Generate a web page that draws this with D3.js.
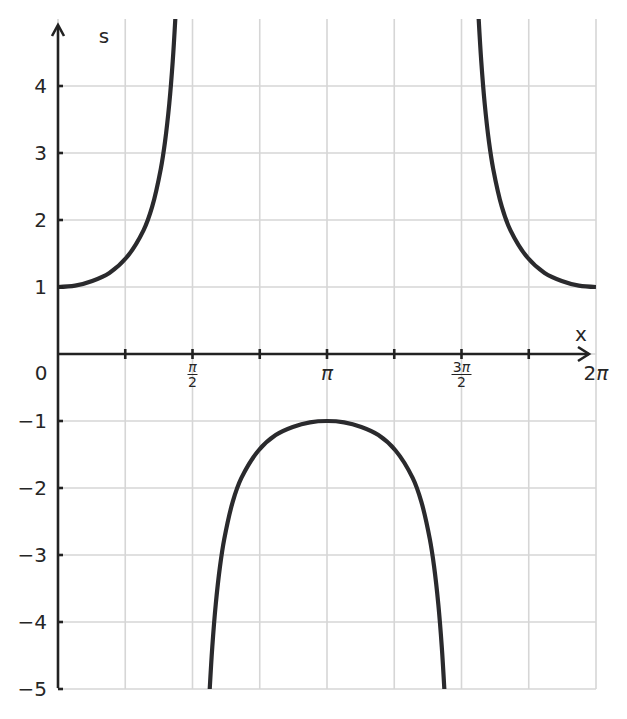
<!DOCTYPE html>
<html>
<head>
<meta charset="utf-8">
<script src="https://cdn.jsdelivr.net/npm/d3@7"></script>
<style>
  body { margin: 0; background: #fff; }
  text { font-family: "DejaVu Sans", sans-serif; fill: #262626; }
</style>
</head>
<body>
<svg width="627" height="719"></svg>
<script>
// values (x in radians, s)
const branch1X = [0, 0.2, 0.4, 0.6, 0.8, 1.0, 1.1, 1.2, 1.25, 1.3, 1.34, 1.37];
const branch1S = [1, 1.02, 1.09, 1.21, 1.44, 1.85, 2.2, 2.76, 3.17, 3.74, 4.37, 5.0];

const branch2X = [1.772, 1.802, 1.842, 1.892, 1.942, 2.042, 2.142, 2.342, 2.542, 2.742, 2.942, 3.142,
                  3.342, 3.542, 3.742, 3.942, 4.142, 4.242, 4.342, 4.392, 4.442, 4.482, 4.512];
const branch2S = [-5.0, -4.37, -3.74, -3.17, -2.76, -2.2, -1.85, -1.44, -1.21, -1.09, -1.02, -1,
                  -1.02, -1.09, -1.21, -1.44, -1.85, -2.2, -2.76, -3.17, -3.74, -4.37, -5.0];

const branch3X = [4.913, 4.943, 4.983, 5.033, 5.083, 5.183, 5.283, 5.483, 5.683, 5.883, 6.083, 6.283];
const branch3S = [5.0, 4.37, 3.74, 3.17, 2.76, 2.2, 1.85, 1.44, 1.21, 1.09, 1.02, 1];

const xGridPi = [0, 0.25, 0.5, 0.75, 1, 1.25, 1.5, 1.75, 2];   // multiples of pi
const xLabelPi = [0.5, 1, 1.5, 2];
const xLabelText = [["", "2"], [""], ["3", "2"], ["2"]];      // digit before pi, denominator
const yTicks = [-5, -4, -3, -2, -1, 1, 2, 3, 4];
const yGrid = [-5, -4, -3, -2, -1, 0, 1, 2, 3, 4];

const svg = d3.select("svg");
const PI = Math.PI;

const x = d3.scaleLinear().domain([0, 2 * PI]).range([58, 596]);
const y = d3.scaleLinear().domain([-5, 5]).range([689, 19]);

const axisColor = "#222";
const gridColor = "#d6d6d6";

// grid
svg.append("g").selectAll("line")
  .data(xGridPi)
  .enter().append("line")
    .attr("x1", d => x(d * PI)).attr("x2", d => x(d * PI))
    .attr("y1", y(5)).attr("y2", y(-5))
    .attr("stroke", gridColor).attr("stroke-width", 1.6);

svg.append("g").selectAll("line")
  .data(yGrid)
  .enter().append("line")
    .attr("x1", x(0)).attr("x2", x(2 * PI))
    .attr("y1", d => y(d)).attr("y2", d => y(d))
    .attr("stroke", gridColor).attr("stroke-width", 1.6);

// curves
svg.append("clipPath").attr("id", "clip")
  .append("rect")
    .attr("x", x(0)).attr("y", y(5))
    .attr("width", x(2 * PI) - x(0)).attr("height", y(-5) - y(5));

const line = d3.line()
  .x(d => x(d[0]))
  .y(d => y(d[1]))
  .curve(d3.curveCatmullRom.alpha(0.5));

const branches = [
  d3.zip(branch1X, branch1S),
  d3.zip(branch2X, branch2S),
  d3.zip(branch3X, branch3S)
];

svg.append("g").attr("clip-path", "url(#clip)")
  .selectAll("path")
  .data(branches)
  .enter().append("path")
    .attr("d", line)
    .attr("fill", "none")
    .attr("stroke", "#2a2a2d")
    .attr("stroke-width", 4.2);

// axes
const y0 = y(0);
svg.append("line")
  .attr("x1", x(0)).attr("x2", 589)
  .attr("y1", y0).attr("y2", y0)
  .attr("stroke", axisColor).attr("stroke-width", 2.6);
svg.append("path")
  .attr("d", `M578,${y0 - 7}L589,${y0}L578,${y0 + 7}`)
  .attr("fill", "none").attr("stroke", axisColor).attr("stroke-width", 2.6);

svg.append("line")
  .attr("x1", x(0)).attr("x2", x(0))
  .attr("y1", 688).attr("y2", 26)
  .attr("stroke", axisColor).attr("stroke-width", 2.6);
svg.append("path")
  .attr("d", `M${x(0) - 6},36L${x(0)},25L${x(0) + 6},36`)
  .attr("fill", "none").attr("stroke", axisColor).attr("stroke-width", 2.6);

// x ticks
svg.append("g").selectAll("line")
  .data(xGridPi.filter(d => d > 0 && d < 2))
  .enter().append("line")
    .attr("x1", d => x(d * PI)).attr("x2", d => x(d * PI))
    .attr("y1", y0 - 5).attr("y2", y0 + 5)
    .attr("stroke", axisColor).attr("stroke-width", 2.6);

// y ticks
svg.append("g").selectAll("line")
  .data(yTicks)
  .enter().append("line")
    .attr("x1", x(0)).attr("x2", x(0) + 5)
    .attr("y1", d => y(d)).attr("y2", d => y(d))
    .attr("stroke", axisColor).attr("stroke-width", 2.6);

// y tick labels
svg.append("g").selectAll("text")
  .data(yTicks)
  .enter().append("text")
    .attr("x", 47)
    .attr("y", d => y(d))
    .attr("dy", "0.36em")
    .attr("text-anchor", "end")
    .attr("font-size", 20)
    .text(d => d < 0 ? "−" + Math.abs(d) : d);

svg.append("text")
  .attr("x", 41).attr("y", 380)
  .attr("text-anchor", "middle").attr("font-size", 20)
  .text("0");

// x tick labels
xLabelPi.forEach((v, i) => {
  const t = xLabelText[i];
  const cx = x(v * PI);
  if (t.length === 1) {
    const txt = svg.append("text")
      .attr("x", cx).attr("y", 380)
      .attr("text-anchor", "middle").attr("font-size", 20);
    txt.append("tspan").text(t[0]);
    txt.append("tspan").attr("font-style", "italic").text("π");
  } else {
    const num = svg.append("text")
      .attr("x", cx).attr("y", 372)
      .attr("text-anchor", "middle").attr("font-size", 14);
    num.append("tspan").text(t[0]);
    num.append("tspan").attr("font-style", "italic").text("π");
    const w = t[0].length ? 10 : 5;
    svg.append("line")
      .attr("x1", cx - w).attr("x2", cx + w)
      .attr("y1", 374.5).attr("y2", 374.5)
      .attr("stroke", axisColor).attr("stroke-width", 1);
    svg.append("text")
      .attr("x", cx).attr("y", 387)
      .attr("text-anchor", "middle").attr("font-size", 14)
      .text(t[1]);
  }
});

// axis names
svg.append("text")
  .attr("x", 581).attr("y", 341)
  .attr("text-anchor", "middle").attr("font-size", 20)
  .text("x");
svg.append("text")
  .attr("x", 104).attr("y", 43)
  .attr("text-anchor", "middle").attr("font-size", 20)
  .text("s");
</script>
</body>
</html>
